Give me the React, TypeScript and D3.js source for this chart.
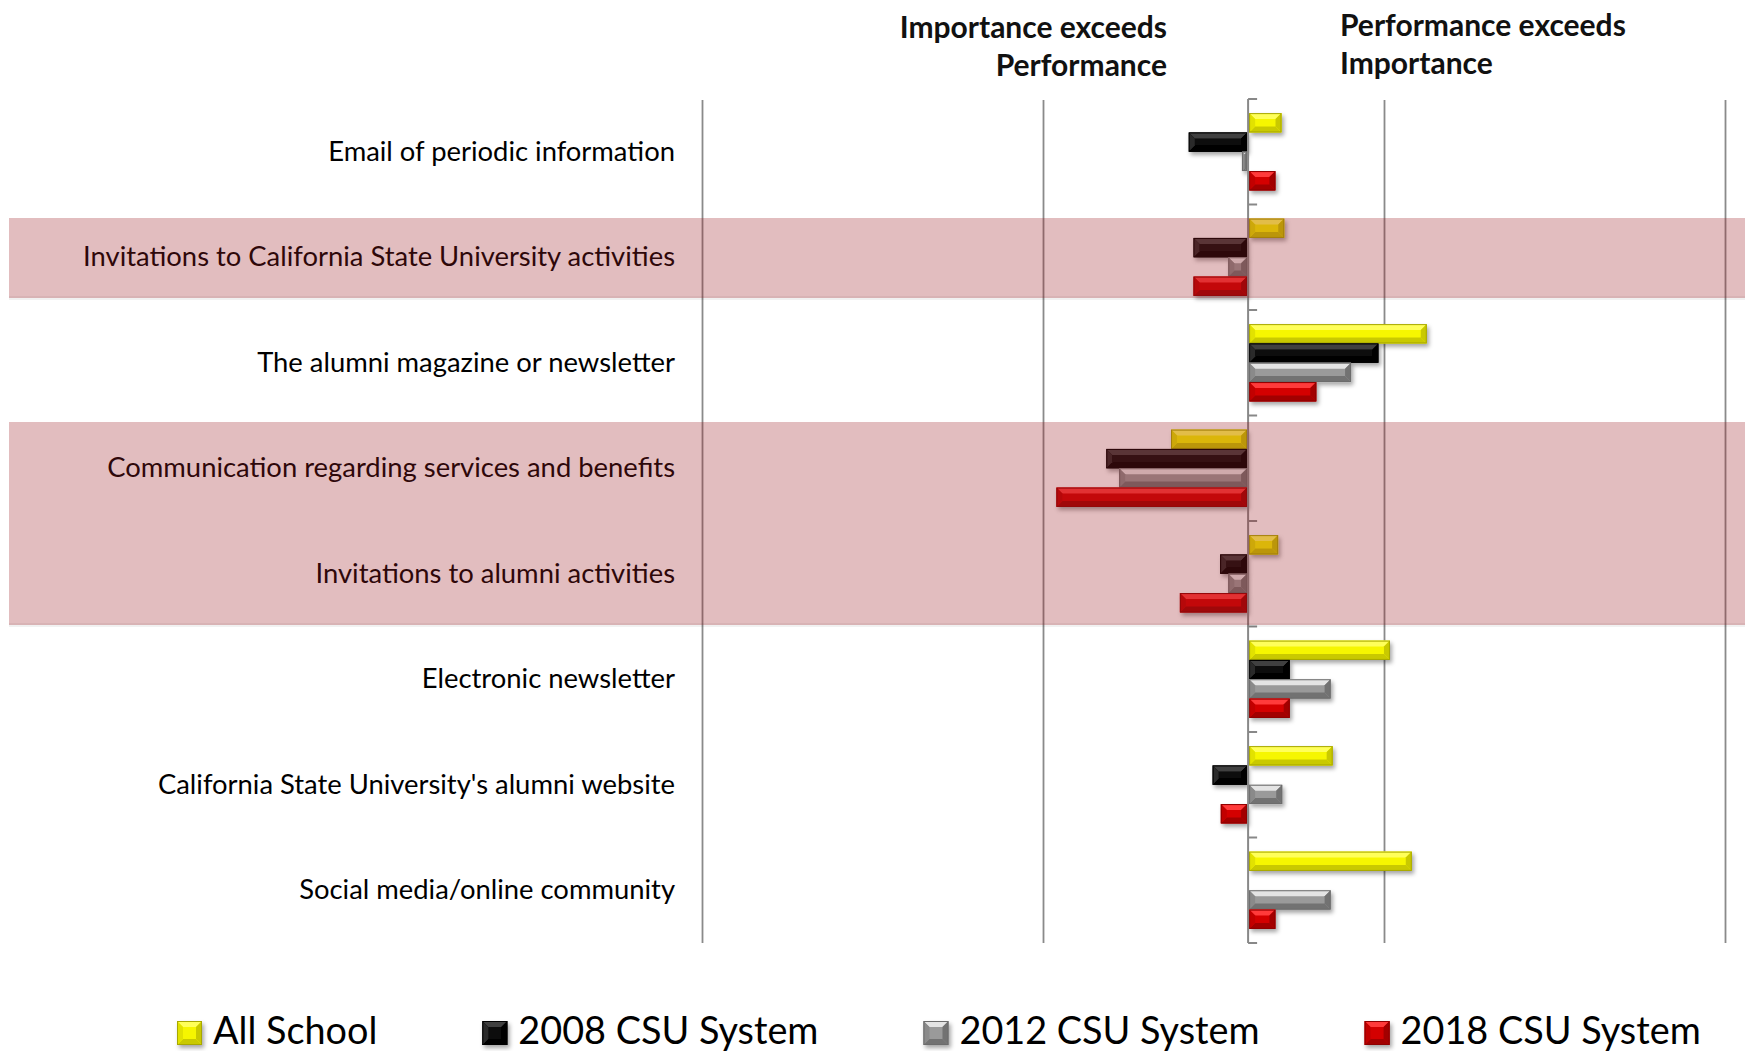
import React from "react";
import * as d3 from "d3";

const categories = [
  "Email of periodic information",
  "Invitations to California State University activities",
  "The alumni magazine or newsletter",
  "Communication regarding services and benefits",
  "Invitations to alumni activities",
  "Electronic newsletter",
  "California State University's alumni website",
  "Social media/online community",
];
const seriesNames = ["All School", "2008 CSU System", "2012 CSU System", "2018 CSU System"];
const allSchool = [0.049, 0.053, 0.262, -0.113, 0.044, 0.208, 0.124, 0.24];
const csu2008 = [-0.087, -0.08, 0.191, -0.208, -0.041, 0.061, -0.052, 0];
const csu2012 = [-0.009, -0.029, 0.151, -0.189, -0.029, 0.121, 0.05, 0.121];
const csu2018 = [0.04, -0.08, 0.1, -0.281, -0.1, 0.061, -0.04, 0.04];
const gridTicks = [-0.8, -0.3, 0.2, 0.7];
const highlightGroups = [
  ["Invitations to California State University activities"],
  ["Communication regarding services and benefits", "Invitations to alumni activities"],
];
const headerLeft = ["Importance exceeds", "Performance"];
const headerRight = ["Performance exceeds", "Importance"];

const seriesValues = [allSchool, csu2008, csu2012, csu2018];

const W = 1745;
const H = 1051;
const FONT = "Lato, 'Open Sans', sans-serif";

const palettes = [
  { mid: "#f6f600", top: "#ffff5a", bottom: "#c9c900", side: "#e2e200", stroke: "#a8a800" },
  { mid: "#080808", top: "#404040", bottom: "#000000", side: "#2a2a2a", stroke: "#000000" },
  { mid: "#9a9a9a", top: "#e4e4e4", bottom: "#727272", side: "#8a8a8a", stroke: "#6c6c6c" },
  { mid: "#d40000", top: "#ff3a3a", bottom: "#a20000", side: "#c20000", stroke: "#8e0000" },
];

function Bevel({ x, y, w, h, p }: { x: number; y: number; w: number; h: number; p: any }) {
  const b = Math.min(6, h / 3, w / 2);
  const x1 = x + w;
  const y1 = y + h;
  const pts = (a: number[][]) => a.map((q) => q.join(",")).join(" ");
  return (
    <g filter="url(#shadow)">
      <rect x={x} y={y} width={w} height={h} fill={p.mid} />
      <polygon points={pts([[x, y], [x1, y], [x1 - b, y + b], [x + b, y + b]])} fill={p.top} />
      <polygon points={pts([[x, y1], [x1, y1], [x1 - b, y1 - b], [x + b, y1 - b]])} fill={p.bottom} />
      <polygon points={pts([[x, y], [x + b, y + b], [x + b, y1 - b], [x, y1]])} fill={p.side} />
      <polygon points={pts([[x1, y], [x1 - b, y + b], [x1 - b, y1 - b], [x1, y1]])} fill={p.bottom} />
      <rect x={x + 0.5} y={y + 0.5} width={Math.max(0, w - 1)} height={Math.max(0, h - 1)} fill="none" stroke={p.stroke} strokeWidth={1} />
    </g>
  );
}

function measure(text: string, font: string) {
  const c = document.createElement("canvas").getContext("2d");
  if (!c) return text.length * 20;
  c.font = font;
  return c.measureText(text).width;
}

export default function App() {
  const x = d3.scaleLinear().domain([-0.8, 0.7]).range([702.5, 1725.5]);
  const top = 99;
  const bottom = 943;
  const y = d3.scaleBand<string>().domain(categories).range([top, bottom]).padding(0);
  const bw = y.bandwidth();
  const ys = d3.scaleBand<string>().domain(seriesNames).range([0, bw]).paddingInner(0).paddingOuter(0.73);
  const x0 = x(0);

  const bandInsets = [
    [13.5, 12],
    [6.5, 1.5],
  ];

  const legendFontSize = 37.8;
  const legendFont = `${legendFontSize}px Lato`;
  let lx = 177;
  const legendItems = seriesNames.map((s, i) => {
    const item = { name: s, x: lx, i };
    lx += 26 + 10 + measure(s, legendFont) + 105;
    return item;
  });

  return (
    <svg width={W} height={H} style={{ position: "absolute", left: 0, top: 0, display: "block", background: "#fff" }} fontFamily={FONT}>
      <defs>
        <filter id="shadow" x="-20%" y="-40%" width="150%" height="200%">
          <feDropShadow dx="2" dy="3" stdDeviation="2" floodColor="#000" floodOpacity="0.35" />
        </filter>
        <filter id="bandShadow" x="-5%" y="-20%" width="110%" height="150%">
          <feDropShadow dx="0" dy="4" stdDeviation="4" floodColor="#000" floodOpacity="0.12" />
        </filter>
      </defs>

      {/* header */}
      <g fontWeight="bold" fontSize={30} fill="#111">
        {headerLeft.map((t, i) => (
          <text key={t} x={1167} y={37.5 + i * 38.5} textAnchor="end">
            {t}
          </text>
        ))}
        {headerRight.map((t, i) => (
          <text key={t} x={1340} y={35.5 + i * 38.5}>
            {t}
          </text>
        ))}
      </g>

      {/* gridlines */}
      {gridTicks.map((t) => (
        <line key={t} x1={x(t)} x2={x(t)} y1={top + 1} y2={bottom} stroke="#8a8a8a" strokeWidth={1.8} />
      ))}

      {/* category labels */}
      {categories.map((c) => (
        <text key={c} x={675} y={(y(c) as number) + bw / 2 - 1} dy="0.36em" textAnchor="end" fontSize={27.4} fill="#000">
          {c}
        </text>
      ))}

      {/* bars */}
      {categories.map((c, ci) => (
        <g key={c}>
          {seriesNames.map((s, si) => {
            const v = seriesValues[si][ci];
            if (!v) return null;
            const xa = v >= 0 ? x0 + 1 : x(v);
            const xb = v >= 0 ? x(v) : x0 - 1;
            return (
              <Bevel key={s} x={xa} y={(y(c) as number) + (ys(s) as number)} w={xb - xa} h={ys.bandwidth()} p={palettes[si]} />
            );
          })}
        </g>
      ))}

      {/* zero axis with ticks */}
      <line x1={x0} x2={x0} y1={top} y2={bottom} stroke="#888" strokeWidth={2} />
      {[...categories.map((c) => y(c) as number), bottom].map((ty, i) => (
        <line key={i} x1={x0} x2={x0 + 9} y1={ty} y2={ty} stroke="#888" strokeWidth={2} />
      ))}

      {/* highlight overlays */}
      {highlightGroups.map((g, gi) => {
        const y0 = (y(g[0]) as number) + bandInsets[gi][0];
        const y1 = (y(g[g.length - 1]) as number) + bw - bandInsets[gi][1];
        return (
          <g key={gi}>
            <rect x={9} y={y1 - 2} width={W - 9} height={4} fill="#000" opacity={0.05} filter="url(#bandShadow)" />
            <rect x={9} y={y0} width={W - 9} height={y1 - y0} fill="rgb(155,28,34)" fillOpacity={0.29} />
          </g>
        );
      })}

      {/* legend */}
      {legendItems.map((it) => (
        <g key={it.name}>
          <Bevel x={it.x} y={1021} w={25} h={24} p={palettes[it.i]} />
          <text x={it.x + 36} y={1044} fontSize={legendFontSize} fill="#000">
            {it.name}
          </text>
        </g>
      ))}
    </svg>
  );
}
